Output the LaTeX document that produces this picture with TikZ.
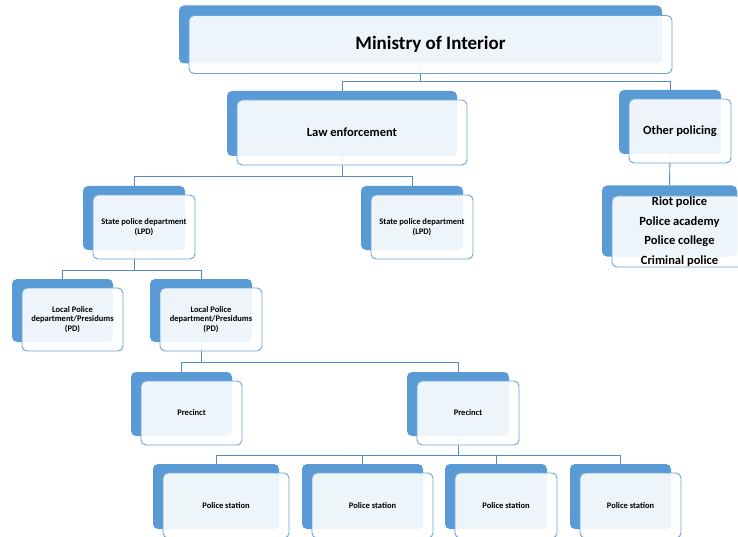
\documentclass[tikz,border=0pt]{standalone}
\usepackage{fontspec}
\setmainfont{Carlito}
\usetikzlibrary{backgrounds}

\definecolor{smblue}{RGB}{91,155,213}
\definecolor{smedge}{RGB}{108,163,216}
\definecolor{smline}{RGB}{80,140,202}

\tikzset{
  back/.style={fill=smblue,rounded corners=5pt,inner sep=0pt},
  front/.style={draw=smedge,line width=0.9pt,fill=white,fill opacity=0.9,text opacity=1,
    rounded corners=5pt,inner sep=0pt,align=center,font=\bfseries\fontsize{12.5}{19.5}\selectfont},
  small/.style={font=\bfseries\fontsize{8.5}{9.5}\selectfont},
  huge/.style={font=\bfseries\fontsize{19}{23}\selectfont},
  link/.style={draw=smline,line width=0.9pt}
}

% back box + front box: [style]{name}{x}{y}{width}{height}{text}
\newcommand{\orgbox}[7][]{%
  \node[back,minimum width=#5pt,minimum height=#6pt] (#2b) at (#3,-#4) {};
  \node[front,#1,minimum width=#5pt,minimum height=#6pt] (#2) at (#3+10,-#4-9) {#7};
}

\begin{document}
\begin{tikzpicture}[x=1pt,y=1pt]
  \useasboundingbox (0,0) rectangle (738,-537);

  %top levels
  \orgbox[huge,yshift=-1pt]{mi}{420.5}{34.5}{483}{58}{Ministry of Interior}
  \orgbox{le}{342}{123.5}{230}{65}{Law enforcement}
  \orgbox{op}{670}{122}{102}{64}{Other policing}
  \orgbox[yshift=-1.5pt]{list}{669.5}{221}{135}{71}{Riot police\\Police academy\\Police college\\Criminal police}

  %departments
  \orgbox[small]{sa}{134}{218}{102}{64}{State police department\\(LPD)}
  \orgbox[small]{sb}{412}{218}{102}{64}{State police department\\(LPD)}
  \orgbox[small]{la}{62.5}{310.5}{101}{63}{Local Police\\department/Presidums\\(PD)}
  \orgbox[small]{lb}{201}{310.5}{102}{63}{Local Police\\department/Presidums\\(PD)}

  %precincts
  \orgbox[small]{pa}{181.5}{404}{101}{64}{Precinct}
  \orgbox[small]{pb}{458}{404}{102}{64}{Precinct}

  %stations
  \orgbox[small]{psa}{216}{496.5}{126}{65}{Police station}
  \orgbox[small]{psb}{362.5}{496.5}{121}{65}{Police station}
  \orgbox[small]{psc}{496}{496.5}{102}{65}{Police station}
  \orgbox[small]{psd}{620.5}{496.5}{101}{65}{Police station}

  %connectors
  \begin{scope}[on background layer]
    \draw[link] (mib.south) -- ++(0,-18) -| (leb.north);
    \draw[link] (mib.south) -- ++(0,-18) -| (opb.north);
    \draw[link] (opb.south) -- (listb.north);
    \draw[link] (leb.south) -- ++(0,-20) -| (sab.north);
    \draw[link] (leb.south) -- ++(0,-20) -| (sbb.north);
    \draw[link] (sab.south) -- ++(0,-20) -| (lab.north);
    \draw[link] (sab.south) -- ++(0,-20) -| (lbb.north);
    \draw[link] (lbb.south) -- ++(0,-20) -| (pab.north);
    \draw[link] (lbb.south) -- ++(0,-20) -| (pbb.north);
    \foreach \s in {psa,psb,psc,psd}
      \draw[link] (pbb.south) -- ++(0,-19) -| (\s b.north);
  \end{scope}
\end{tikzpicture}
\end{document}
